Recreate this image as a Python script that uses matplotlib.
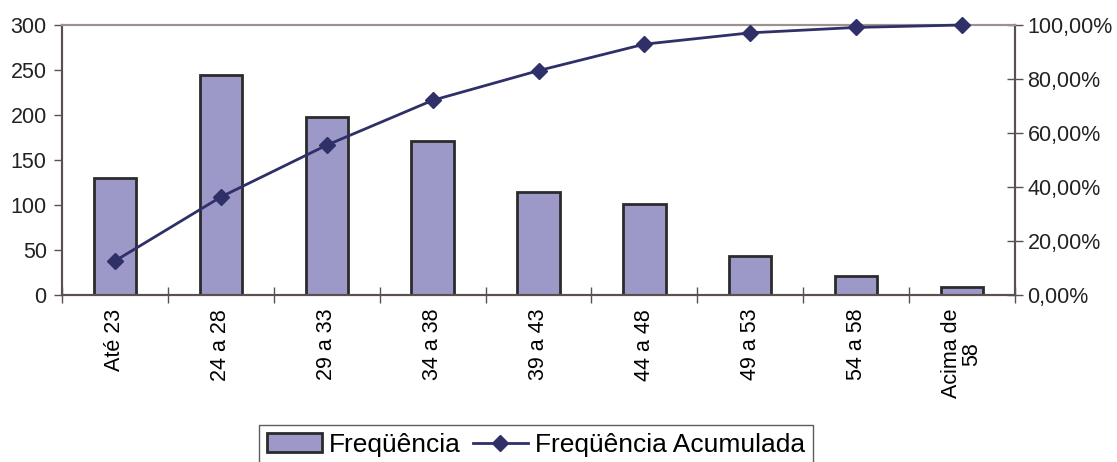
import matplotlib
matplotlib.use("Agg")
import numpy as np
from matplotlib import pyplot as plt
from matplotlib.ticker import FuncFormatter

plt.rcParams["font.family"] = ["Liberation Sans", "DejaVu Sans"]

# faixas etarias
categorias = ["Até 23", "24 a 28", "29 a 33", "34 a 38", "39 a 43",
              "44 a 48", "49 a 53", "54 a 58", "Acima de\n58"]
frequencia = [130, 244, 198, 171, 114, 101, 43, 21, 9]
acumulada = [12.6, 36.3, 55.5, 72.1, 83.1, 92.9, 97.1, 99.1, 100.0]  # %

bar_color = "#9c98c8"
line_color = "#2f3068"
axis_color = "#5b5050"

fig = plt.figure(figsize=(11.17, 4.62), dpi=100)
ax = fig.add_axes([62 / 1117, 1 - 295 / 462, (1015 - 62) / 1117, (295 - 25) / 462])
ax2 = ax.twinx()

x = np.arange(len(categorias))
bars = ax.bar(x, frequencia, width=0.4, color=bar_color, edgecolor="#2b2b2b",
              linewidth=2, label="Freqüência", zorder=2)
line, = ax2.plot(x, acumulada, color=line_color, lw=2, marker="D", ms=8,
                 label="Freqüência Acumulada", zorder=3, clip_on=False)

ax.set_xlim(-0.5, len(categorias) - 0.5)
ax.set_ylim(0, 300)
ax2.set_ylim(0, 100)
ax.set_yticks(range(0, 301, 50))
ax2.set_yticks(range(0, 101, 20))
ax2.yaxis.set_major_formatter(FuncFormatter(lambda v, p: f"{v:.2f}%".replace(".", ",")))

# ticks between categories, labels at centers
ax.set_xticks(np.arange(-0.5, len(categorias), 1))
ax.set_xticklabels([])
ax.set_xticks(x, minor=True)
ax.set_xticklabels(categorias, minor=True, rotation=90, va="top", ha="center",
                   multialignment="center", fontsize=15.5, linespacing=0.95)
ax.tick_params(axis="x", which="minor", length=0, pad=10)
ax.tick_params(axis="x", which="major", direction="inout", length=12, width=1,
               color=axis_color)
ax.tick_params(axis="y", direction="out", length=6, width=1, color=axis_color,
               labelsize=15.5, pad=5, colors="#222222")
ax2.tick_params(axis="y", direction="inout", length=12, width=1, color=axis_color,
                labelsize=15.5, pad=3, colors="#222222")
ax.tick_params(axis="x", colors="#222222")
ax.tick_params(axis="x", which="major", color=axis_color)

for a in (ax, ax2):
    for side in ("left", "bottom", "right"):
        a.spines[side].set_color(axis_color)
        a.spines[side].set_linewidth(1.5)
    a.spines["top"].set_color("#a09090")
    a.spines["top"].set_linewidth(1.5)

leg = fig.legend([bars, line], ["Freqüência", "Freqüência Acumulada"],
                 loc="upper left", bbox_to_anchor=(259 / 1117, 1 - 425 / 462),
                 ncol=2, frameon=True, fancybox=False, fontsize=19,
                 handlelength=2.1, handletextpad=0.25, columnspacing=0.45,
                 borderpad=0.3, borderaxespad=0)
leg.get_frame().set_edgecolor("#333333")
leg.get_frame().set_linewidth(1)

fig.savefig("out.png", dpi=100)
